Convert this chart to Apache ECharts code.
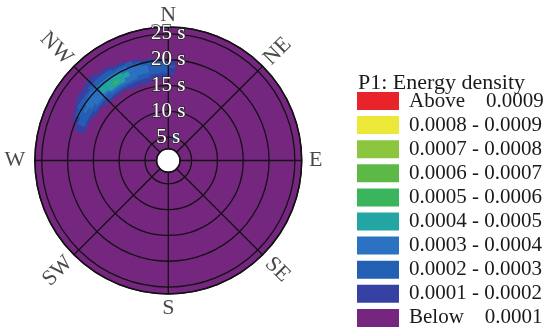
<!DOCTYPE html>
<html>
<head>
<meta charset="utf-8">
<script src="https://cdn.jsdelivr.net/npm/echarts@6/dist/echarts.min.js"></script>
<style>
  html, body { margin: 0; padding: 0; background: #ffffff; }
  #chart { width: 546px; height: 329px; }
</style>
</head>
<body>
<div id="chart"></div>
<script>
// Polar energy-density rose: wave direction (bearing) vs. period (s)
const SERIF = '"Liberation Serif", "Times New Roman", serif';

// Compass directions drawn around the rim
const directions = ['N', 'NE', 'E', 'SE', 'S', 'SW', 'W', 'NW'];
const directionBearings = [0, 45, 90, 135, 180, 225, 270, 315];

// Period rings that carry a label
const periodTicks = [5, 10, 15, 20, 25];

// Legend levels (top to bottom)
const levelLabels = [
  'Above    0.0009', '0.0008 - 0.0009', '0.0007 - 0.0008', '0.0006 - 0.0007',
  '0.0005 - 0.0006', '0.0004 - 0.0005', '0.0003 - 0.0004', '0.0002 - 0.0003',
  '0.0001 - 0.0002', 'Below    0.0001'
];
const levelLower = [0.0009, 0.0008, 0.0007, 0.0006, 0.0005, 0.0004, 0.0003, 0.0002, 0.0001, null];
const levelUpper = [null, 0.0009, 0.0008, 0.0007, 0.0006, 0.0005, 0.0004, 0.0003, 0.0002, 0.0001];
const levelColors = [
  '#e8232a', '#ece83a', '#8cc63f', '#5cb947', '#3bb55d',
  '#22a5a3', '#2b72c2', '#2360b4', '#3741a3', '#75277f'
];

// Energy density on a bearing x period grid, in units of 1e-4
const ENERGY_UNIT = 1e-4;
const bearingBinStart = [-72, -68, -64, -60, -56, -52, -48, -44, -40, -36, -32, -28, -24, -20, -16, -12, -8, -4, 0];
const BEARING_STEP = 4;
const periodBinStart = [15.5, 16, 16.5, 17, 17.5, 18, 18.5, 19, 19.5, 20, 20.5, 21, 21.5, 22, 22.5];
const PERIOD_STEP = 0.5;
const energy = [
  [0, 0, 0, 0, 1.1, 1.6, 1.8, 1.3, 0, 0, 0, 0, 0, 0, 0],
  [0, 0, 0, 0, 1.5, 2.2, 2.4, 2.3, 1.8, 1.2, 0, 0, 0, 0, 0],
  [0, 0, 0, 0, 1.6, 2.4, 2.7, 2.8, 2.6, 2.2, 1.5, 0, 0, 0, 0],
  [0, 0, 0, 1.2, 1.9, 2.6, 2.9, 3.1, 2.9, 2.5, 2.1, 1.4, 0, 0, 0],
  [0, 0, 0, 1.3, 2.2, 2.8, 3.3, 3.4, 3.2, 2.7, 2.3, 1.6, 1.1, 0, 0],
  [0, 0, 0, 1.5, 2.5, 3.1, 3.6, 3.7, 3.5, 3.0, 2.5, 1.9, 1.3, 0, 0],
  [0, 0, 1.1, 1.7, 2.7, 3.4, 3.8, 3.9, 3.7, 3.2, 2.6, 2.0, 1.4, 1.1, 0],
  [0, 0, 1.3, 2.0, 2.9, 3.8, 4.4, 4.5, 4.1, 3.5, 2.8, 2.1, 1.5, 1.1, 0],
  [0, 0, 1.4, 2.1, 3.1, 4.2, 4.8, 4.8, 4.4, 3.6, 2.9, 2.2, 1.5, 0, 0],
  [0, 0, 1.5, 2.2, 3.2, 4.3, 5.2, 4.7, 4.3, 3.5, 2.8, 2.1, 1.3, 0, 0],
  [0, 0, 1.5, 2.2, 3.2, 4.2, 4.6, 4.5, 4.1, 3.4, 2.7, 1.8, 0, 0, 0],
  [0, 1.1, 1.6, 2.3, 3.1, 3.8, 4.2, 4.1, 3.7, 3.2, 2.5, 1.6, 0, 0, 0],
  [0, 1.1, 1.6, 2.3, 3.0, 3.5, 3.8, 3.7, 3.4, 2.9, 2.2, 0, 0, 0, 0],
  [0, 1.1, 1.6, 2.2, 2.8, 3.3, 3.5, 3.4, 3.1, 2.6, 1.9, 0, 0, 0, 0],
  [0, 1.0, 1.5, 2.1, 2.7, 3.0, 3.1, 3.0, 2.8, 1.7, 0, 0, 0, 0, 0],
  [0, 0, 1.4, 1.9, 2.5, 2.8, 2.9, 2.8, 2.5, 1.5, 0, 0, 0, 0, 0],
  [0, 0, 1.2, 1.7, 2.3, 2.6, 2.7, 2.6, 2.2, 0, 0, 0, 0, 0, 0],
  [0, 0, 1.1, 1.5, 2.0, 2.3, 2.4, 2.3, 1.8, 0, 0, 0, 0, 0, 0],
  [0, 0, 0, 1.3, 1.7, 1.9, 2.1, 1.8, 1.3, 0, 0, 0, 0, 0, 0]
];
// Isolated short-period patch: [bearing from, bearing to, period from, period to, energy (1e-4)]
const extraPatches = [
  [10, 20, 4.7, 5.8, 2.4]
];

// Period axis range (s)
const PERIOD_MIN = 2.75;
const PERIOD_MAX = 26.32;

// ---- layout / style ----
const CENTER = [168.3, 160.5];
const RADIUS = [11.7, 133.4];
const LINE = '#141014';
const directionRotate = [0, 45, 0, -45, 0, 45, 0, -45];
const directionGap = [12, 21, 14, 21, 14, 23, 20, 25];

// Build sector cells: [period from, period to, bearing from, bearing to, value]
const cells = [];
bearingBinStart.forEach(function (b, i) {
  periodBinStart.forEach(function (p, j) {
    const v = energy[i][j];
    if (v > 0) cells.push([p, p + PERIOD_STEP, b, b + BEARING_STEP, v * ENERGY_UNIT]);
  });
});
extraPatches.forEach(function (c) {
  cells.push([c[2], c[3], c[0], c[1], c[4] * ENERGY_UNIT]);
});

function toAxisAngle(b) { return ((b % 360) + 360) % 360; }

function renderCell(params, api) {
  const cs = params.coordSys;
  const cx = cs.cx, cy = cs.cy;
  const p0 = api.value(0), p1 = api.value(1);
  const a0 = toAxisAngle(api.value(2)), a1 = toAxisAngle(api.value(3));
  const inStart = api.coord([p0, a0]);
  const outStart = api.coord([p1, a0]);
  const inEnd = api.coord([p0, a1]);
  const rIn = Math.hypot(inStart[0] - cx, inStart[1] - cy);
  const rOut = Math.hypot(outStart[0] - cx, outStart[1] - cy);
  let s = Math.atan2(inStart[1] - cy, inStart[0] - cx);
  let e = Math.atan2(inEnd[1] - cy, inEnd[0] - cx);
  if (e < s) e += Math.PI * 2;
  const color = api.visual('color');
  return {
    type: 'sector',
    shape: { cx: cx, cy: cy, r0: rIn, r: rOut, startAngle: s, endAngle: e, clockwise: true },
    style: { fill: color, stroke: color, lineWidth: 0.6 }
  };
}

const pieces = levelLabels.map(function (label, i) {
  const p = { label: label, color: levelColors[i] };
  if (levelLower[i] !== null) p.gte = levelLower[i];
  if (levelUpper[i] !== null) p.lt = levelUpper[i];
  return p;
});

// Direction labels sit just outside the rim; the label offset is expressed
// in the label's own (rotated) frame, so turn the outward vector into it.
const directionData = directions.map(function (d, i) {
  const rad = directionBearings[i] * Math.PI / 180;
  const g = directionGap[i];
  const dx = g * Math.sin(rad), dy = -g * Math.cos(rad);
  const t = directionRotate[i] * Math.PI / 180;
  const ox = dx * Math.cos(t) - dy * Math.sin(t);
  const oy = dx * Math.sin(t) + dy * Math.cos(t);
  return {
    name: d,
    value: [PERIOD_MAX, directionBearings[i]],
    label: { rotate: directionRotate[i], offset: [ox, oy] }
  };
});

const chart = echarts.init(document.getElementById('chart'), null, { renderer: 'canvas' });

chart.setOption({
  animation: false,
  backgroundColor: '#ffffff',
  title: {
    text: 'P1: Energy density',
    left: 358,
    top: 72,
    padding: 0,
    textStyle: { fontFamily: SERIF, fontSize: 22, fontWeight: 'normal', color: '#1a1a1a' }
  },
  polar: [
    { center: CENTER, radius: RADIUS },
    { center: CENTER, radius: RADIUS }
  ],
  angleAxis: [
    {
      polarIndex: 0, type: 'value', min: 0, max: 360, interval: 45,
      startAngle: 90, clockwise: true,
      axisLine: { show: false }, axisTick: { show: false }, axisLabel: { show: false },
      splitLine: { show: false },
      splitArea: { show: true, areaStyle: { color: [levelColors[9]] } }
    },
    {
      polarIndex: 1, type: 'value', min: 0, max: 360, interval: 45,
      startAngle: 90, clockwise: true, z: 10,
      axisLine: { show: true, lineStyle: { color: LINE, width: 1.5 } },
      axisTick: { show: false }, axisLabel: { show: false },
      splitLine: { show: true, lineStyle: { color: LINE, width: 1.3 } },
      splitArea: { show: false }
    }
  ],
  radiusAxis: [
    {
      polarIndex: 0, type: 'value', min: PERIOD_MIN, max: PERIOD_MAX,
      axisLine: { show: false }, axisTick: { show: false }, axisLabel: { show: false },
      splitLine: { show: false }, splitArea: { show: false }
    },
    {
      polarIndex: 1, type: 'value', min: PERIOD_MIN, max: PERIOD_MAX, z: 10,
      axisLine: { show: false }, axisTick: { show: false },
      splitLine: { show: true, lineStyle: { color: LINE, width: 1.3 } },
      splitArea: { show: false },
      axisLabel: {
        show: true, margin: 0, align: 'center', verticalAlign: 'middle',
        fontFamily: SERIF, fontSize: 21, color: '#ffffff',
        textBorderColor: '#2a2a2a', textBorderWidth: 1.5,
        formatter: function (v) {
          return periodTicks.indexOf(Math.round(v * 100) / 100) >= 0 ? v + ' s' : '';
        }
      }
    }
  ],
  visualMap: {
    type: 'piecewise',
    seriesIndex: 0,
    dimension: 4,
    pieces: pieces,
    selectedMode: false,
    left: 357,
    top: 90.5,
    padding: 0,
    orient: 'vertical',
    align: 'left',
    itemSymbol: 'rect',
    itemWidth: 42,
    itemHeight: 18,
    itemGap: 3.1,
    textGap: 10,
    textStyle: { fontFamily: SERIF, fontSize: 21, color: '#1a1a1a' }
  },
  series: [
    {
      type: 'custom',
      coordinateSystem: 'polar',
      polarIndex: 0,
      renderItem: renderCell,
      data: cells,
      silent: true,
      z: 2
    },
    {
      type: 'scatter',
      coordinateSystem: 'polar',
      polarIndex: 1,
      clip: false,
      silent: true,
      symbolSize: 0,
      data: directionData,
      label: {
        show: true,
        position: 'inside',
        align: 'center',
        verticalAlign: 'middle',
        formatter: '{b}',
        fontFamily: SERIF,
        fontSize: 22,
        color: '#1a1a1a'
      },
      z: 12
    }
  ]
});
</script>
</body>
</html>
